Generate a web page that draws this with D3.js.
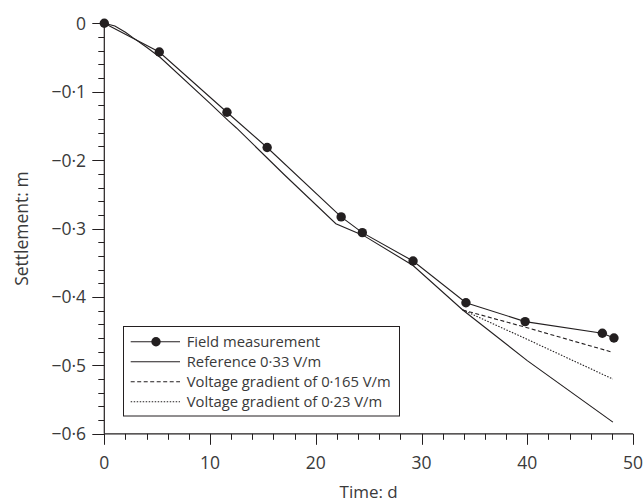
<!DOCTYPE html>
<html>
<head>
<meta charset="utf-8">
<script src="https://cdn.jsdelivr.net/npm/d3@7"></script>
<style>
  body { margin: 0; background: #fff; }
  text { font-family: "Open Sans", "Noto Sans", sans-serif; fill: #3a3a3a; }
</style>
</head>
<body>
<div id="chart"></div>
<script>
// field measurement (day, settlement m)
var fieldDays = [0, 5.2, 11.6, 15.4, 22.4, 24.4, 29.2, 34.2, 39.8, 47.1, 48.2];
var fieldSettle = [0, -0.042, -0.130, -0.1815, -0.283, -0.306, -0.3475, -0.4085, -0.436, -0.453, -0.460];

// reference model 0.33 V/m
var refDays = [0, 1, 2, 2.7, 4, 5.3, 10, 11.7, 12.5, 17, 21.9, 24.5, 29.2, 33.9, 40, 48.1];
var refSettle = [0, -0.004, -0.013, -0.021, -0.035, -0.050, -0.117, -0.142, -0.153, -0.221, -0.293, -0.310, -0.354, -0.419, -0.493, -0.583];

// other voltage gradients, branching off at day 33.9
var gradDays = [33.9, 40, 48.1];
var grad165 = [-0.419, -0.445, -0.481];
var grad23 = [-0.419, -0.462, -0.520];

var xTicks = [0, 10, 20, 30, 40, 50];
var yTicks = [0, -0.1, -0.2, -0.3, -0.4, -0.5, -0.6];

var legendLabels = ["Field measurement", "Reference 0\u00b733 V/m",
                    "Voltage gradient of 0\u00b7165 V/m", "Voltage gradient of 0\u00b723 V/m"];

var width = 644, height = 504;
var ink = "#231f20";

var x = d3.scaleLinear().domain([0, 50]).range([104.3, 633]);
var y = d3.scaleLinear().domain([-0.6, 0]).range([433.8, 23.3]);

var svg = d3.select("#chart").append("svg")
    .attr("width", width)
    .attr("height", height);

var fmt = function(d) {
    if (d === 0) return "0";
    return d3.format(".1f")(d).replace("-", "\u2212").replace(".", "\u00b7");
}

// minor ticks
var xMinor = d3.range(0, 51, 2);
var yMinor = d3.range(0, 31).map(function(i) { return -i * 0.02 });

svg.append("g")
    .selectAll("line")
    .data(xMinor).enter()
    .append("line")
    .attr("x1", function(d) { return Math.round(x(d)) + 0.5 })
    .attr("x2", function(d) { return Math.round(x(d)) + 0.5 })
    .attr("y1", y(-0.6))
    .attr("y2", function(d) { return y(-0.6) + (d % 10 === 0 ? 11 : 6) })
    .style("stroke", ink).style("stroke-width", 1);

svg.append("g")
    .selectAll("line")
    .data(yMinor).enter()
    .append("line")
    .attr("y1", function(d) { return Math.round(y(d)) + 0.5 })
    .attr("y2", function(d) { return Math.round(y(d)) + 0.5 })
    .attr("x1", x(0))
    .attr("x2", function(d, i) { return x(0) - (i % 5 === 0 ? 12 : 6) })
    .style("stroke", ink).style("stroke-width", 1);

// axis lines
svg.append("line")
    .attr("x1", x(0)).attr("x2", x(50))
    .attr("y1", y(-0.6)).attr("y2", y(-0.6))
    .style("stroke", ink).style("stroke-width", 1.2);
svg.append("line")
    .attr("x1", x(0)).attr("x2", x(0))
    .attr("y1", y(0)).attr("y2", y(-0.6))
    .style("stroke", ink).style("stroke-width", 1.2);

// tick labels
svg.append("g")
    .selectAll("text")
    .data(xTicks).enter()
    .append("text")
    .attr("x", function(d) { return x(d) })
    .attr("y", 469)
    .attr("text-anchor", "middle")
    .style("font-size", "17.5px")
    .text(function(d) { return d });

svg.append("g")
    .selectAll("text")
    .data(yTicks).enter()
    .append("text")
    .attr("x", 86)
    .attr("y", function(d) { return y(d) + 6.5 })
    .attr("text-anchor", "end")
    .style("font-size", "17.5px")
    .text(fmt);

// axis titles
svg.append("text")
    .attr("x", (x(0) + x(50)) / 2)
    .attr("y", 498)
    .attr("text-anchor", "middle")
    .style("font-size", "17px")
    .text("Time: d");

svg.append("text")
    .attr("transform", "translate(28," + ((y(0) + y(-0.6)) / 2) + ") rotate(-90)")
    .attr("text-anchor", "middle")
    .style("font-size", "17.5px")
    .text("Settlement: m");

// lines
var line = d3.line()
    .x(function(d) { return x(d[0]) })
    .y(function(d) { return y(d[1]) });

var zip = function(a, b) { return a.map(function(v, i) { return [v, b[i]] }) };

svg.append("path")
    .datum(zip(refDays, refSettle))
    .attr("d", line)
    .attr("fill", "none")
    .style("stroke", ink).style("stroke-width", 1.1);

svg.append("path")
    .datum(zip(gradDays, grad165))
    .attr("d", line)
    .attr("fill", "none")
    .style("stroke", ink).style("stroke-width", 1.1)
    .style("stroke-dasharray", "4,2.5");

svg.append("path")
    .datum(zip(gradDays, grad23))
    .attr("d", line)
    .attr("fill", "none")
    .style("stroke", ink).style("stroke-width", 1.1)
    .style("stroke-dasharray", "1.5,1.5");

svg.append("path")
    .datum(zip(fieldDays, fieldSettle))
    .attr("d", line)
    .attr("fill", "none")
    .style("stroke", ink).style("stroke-width", 1.1);

svg.append("g")
    .selectAll("circle")
    .data(zip(fieldDays, fieldSettle)).enter()
    .append("circle")
    .attr("cx", function(d) { return x(d[0]) })
    .attr("cy", function(d) { return y(d[1]) })
    .attr("r", 4.7)
    .style("fill", ink);

// legend
var legend = svg.append("g");
legend.append("rect")
    .attr("x", 123.5).attr("y", 326.5)
    .attr("width", 276).attr("height", 89.5)
    .attr("fill", "#fff")
    .style("stroke", ink).style("stroke-width", 1);

var dashes = [null, null, "4,2.5", "1.5,1.5"];
var rows = legend.selectAll("g.row")
    .data(legendLabels).enter()
    .append("g")
    .attr("class", "row")
    .attr("transform", function(d, i) { return "translate(0," + (341.7 + i * 20) + ")" });

rows.append("line")
    .attr("x1", 130.7).attr("x2", 180)
    .style("stroke", ink).style("stroke-width", 1.1)
    .style("stroke-dasharray", function(d, i) { return dashes[i] });

rows.filter(function(d, i) { return i === 0 })
    .append("circle")
    .attr("cx", 156).attr("r", 4.7)
    .style("fill", ink);

rows.append("text")
    .attr("x", 186.7)
    .attr("y", 5.2)
    .style("font-size", "14.8px")
    .text(function(d) { return d });
</script>
</body>
</html>
